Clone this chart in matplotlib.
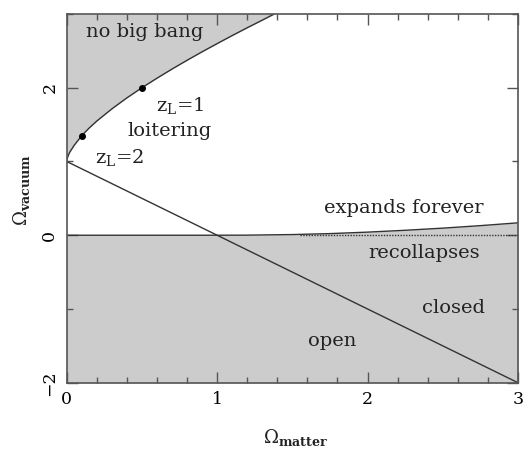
import matplotlib
matplotlib.use("Agg")
import matplotlib.pyplot as plt
from matplotlib.ticker import MultipleLocator

plt.rcParams['font.family'] = ['DejaVu Serif']
plt.rcParams['mathtext.fontset'] = 'dejavuserif'

# "no big bang" boundary
omega_m_nobang = [0.0, 0.005, 0.01, 0.02, 0.05, 0.1, 0.15, 0.2, 0.3, 0.4, 0.5,
                  0.6, 0.7, 0.8, 0.9, 1.0, 1.1, 1.2, 1.3, 1.38]
omega_v_nobang = [1.0, 1.051, 1.08, 1.125, 1.22, 1.35, 1.455, 1.548, 1.713, 1.862, 2.0,
                  2.129, 2.253, 2.372, 2.487, 2.598, 2.707, 2.813, 2.916, 3.0]

# expands forever / recollapses boundary
omega_m_recoll = [0.0, 1.0, 1.2, 1.5, 1.75, 2.0, 2.25, 2.5, 2.75, 3.0]
omega_v_recoll = [0.0, 0.0, 0.001, 0.009, 0.022, 0.042, 0.067, 0.096, 0.130, 0.168]

# flat universe line
omega_m_flat = [0.0, 3.0]
omega_v_flat = [1.0, -2.0]

# dotted zero line
omega_m_zero = [1.55, 3.0]
omega_v_zero = [0.0, 0.0]

# loitering points
loiter_m = [0.1, 0.5]
loiter_v = [1.35, 2.0]

fill_c = '#cccccc'
line_c = '#333333'

fig = plt.figure(figsize=(5.24, 4.51), dpi=100)
ax = fig.add_axes([0.1273, 0.1514, 0.8612, 0.8176])

ax.fill_between(omega_m_nobang, omega_v_nobang, 3.0, color=fill_c, lw=0, zorder=1)
ax.fill_between(omega_m_recoll, omega_v_recoll, -2.0, color=fill_c, lw=0, zorder=1)

ax.plot(omega_m_nobang, omega_v_nobang, color=line_c, lw=1.0, zorder=3)
ax.plot(omega_m_recoll, omega_v_recoll, color=line_c, lw=1.0, zorder=3)
ax.plot(omega_m_flat, omega_v_flat, color=line_c, lw=1.0, zorder=3)
ax.plot(omega_m_zero, omega_v_zero, color=line_c, lw=1.0, ls=(0, (1, 1)), zorder=3)
ax.plot(loiter_m, loiter_v, 'o', color='black', ms=4, zorder=4)

ax.set_xlim(0, 3)
ax.set_ylim(-2, 3)

ax.xaxis.set_major_locator(MultipleLocator(1))
ax.xaxis.set_minor_locator(MultipleLocator(0.2))
ax.yaxis.set_minor_locator(MultipleLocator(1))
ax.tick_params(which='both', direction='in', top=True, right=True, color='#555555')
ax.tick_params(which='major', length=8, width=1.0, labelsize=12.5, pad=6)
ax.tick_params(which='minor', length=4, width=1.0)
ax.set_yticks([-2, 0, 2])
ax.set_yticklabels(['\u22122', '0', '2'], rotation=90, va='center')

for s in ax.spines.values():
    s.set_color('#555555')
    s.set_linewidth(1.2)
    s.set_zorder(5)

tc = '#222222'
fs = 14
ax.text(0.52, 2.75, 'no big bang', ha='center', va='center', fontsize=fs, color=tc)
ax.text(0.75, 1.76, r'$\mathregular{z_L}$=1', ha='center', va='center', fontsize=fs, color=tc)
ax.text(0.685, 1.41, 'loitering', ha='center', va='center', fontsize=fs, color=tc)
ax.text(0.35, 1.05, r'$\mathregular{z_L}$=2', ha='center', va='center', fontsize=fs, color=tc)
ax.text(2.24, 0.37, 'expands forever', ha='center', va='center', fontsize=fs, color=tc)
ax.text(2.375, -0.24, 'recollapses', ha='center', va='center', fontsize=fs, color=tc)
ax.text(2.57, -0.99, 'closed', ha='center', va='center', fontsize=fs, color=tc)
ax.text(1.765, -1.44, 'open', ha='center', va='center', fontsize=fs, color=tc)

fig.text(296 / 524, 1 - 438 / 451, r'$\Omega_{\mathbf{matter}}$', ha='center', va='center',
         fontsize=13, color=tc)
fig.text(22 / 524, 1 - 190 / 451, r'$\Omega_{\mathbf{vacuum}}$', ha='center', va='center',
         fontsize=13, color=tc, rotation=90)

fig.savefig('out.png', dpi=100)
